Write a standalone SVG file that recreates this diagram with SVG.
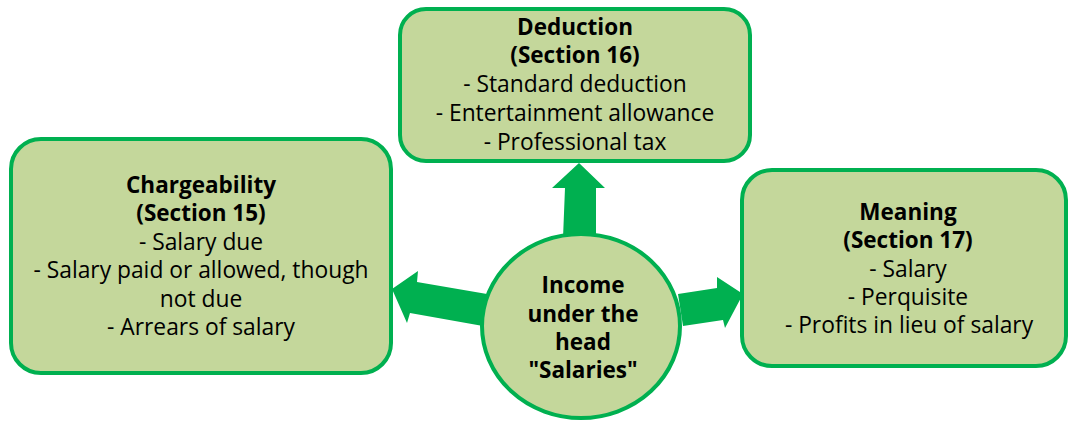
<svg xmlns="http://www.w3.org/2000/svg" width="1070" height="421" viewBox="0 0 1070 421">
<style>
.box{fill:#C4D79B;stroke:#00B050;stroke-width:4}
.arr{fill:#00B050;stroke:none}
text{font-family:"Open Sans","Noto Sans","DejaVu Sans",sans-serif;font-size:22.8px;fill:#000;text-anchor:middle}
.b{font-weight:bold;font-size:22.5px}
</style>
<g id="connectors">
<polygon class="arr" points="563,238 565,188 552,188 579,163 605,188 596,188 596,238"/>
<polygon class="arr" points="487,294 417,282 418,271 392,289 407,323 410,313 483,326"/>
<polygon class="arr" points="678,294 717,288 717,277 743,294 725,328 723,320 683,326"/>
</g>
<g id="deduction">
<rect class="box" x="400" y="9" width="350" height="152" rx="26"/>
<text class="b"><tspan x="575" y="35">Deduction</tspan><tspan x="575" y="63">(Section 16)</tspan></text>
<text><tspan x="575" y="92">- Standard deduction</tspan><tspan x="575" y="121">- Entertainment allowance</tspan><tspan x="575" y="150">- Professional tax</tspan></text>
</g>
<g id="chargeability">
<rect class="box" x="11" y="139" width="380" height="234" rx="30"/>
<text class="b"><tspan x="201" y="193">Chargeability</tspan><tspan x="201" y="221">(Section 15)</tspan></text>
<text><tspan x="201" y="250">- Salary due</tspan><tspan x="201" y="278">- Salary paid or allowed, though</tspan><tspan x="201" y="307">not due</tspan><tspan x="201" y="335">- Arrears of salary</tspan></text>
</g>
<g id="meaning">
<rect class="box" x="742" y="170" width="324" height="196" rx="30"/>
<text class="b"><tspan x="908" y="220">Meaning</tspan><tspan x="908" y="248">(Section 17)</tspan></text>
<text><tspan x="908" y="277">- Salary</tspan><tspan x="908" y="305">- Perquisite</tspan><tspan x="909" y="333">- Profits in lieu of salary</tspan></text>
</g>
<g id="income">
<ellipse class="box" cx="581" cy="326" rx="99" ry="92"/>
<text class="b"><tspan x="583" y="293">Income</tspan><tspan x="583" y="322">under the</tspan><tspan x="583" y="350">head</tspan><tspan x="583" y="378">"Salaries"</tspan></text>
</g>
</svg>
